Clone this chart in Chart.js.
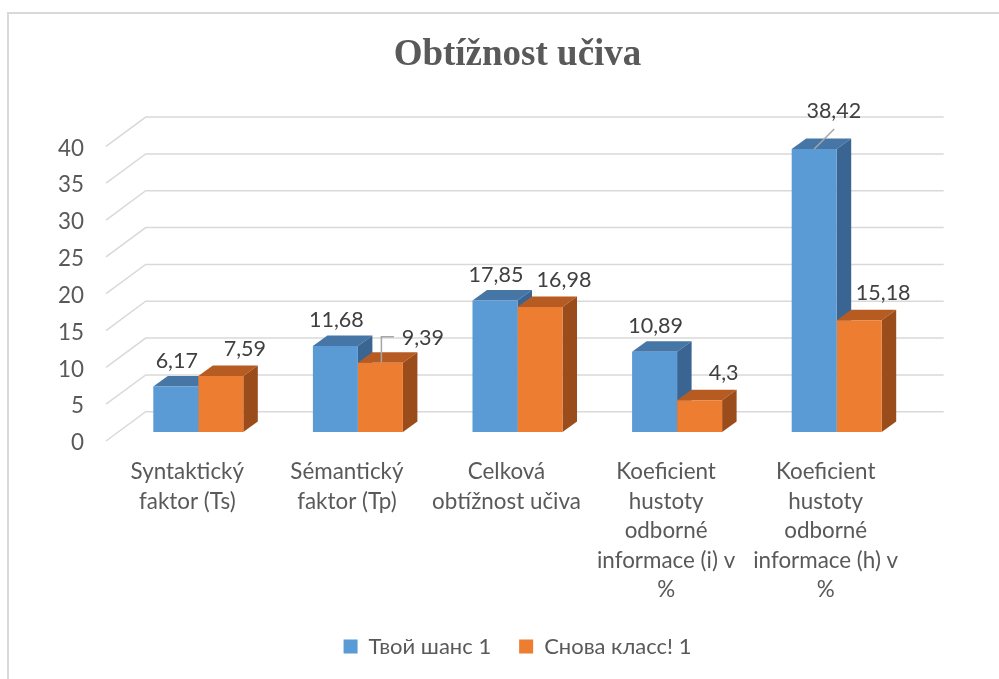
<!DOCTYPE html>
<html lang="cs">
  <head>
    <meta charset="UTF-8" />
    <title>Obtížnost učiva</title>
    <style>
      html,
      body {
        margin: 0;
        padding: 0;
        background: #fff;
      }
    </style>
  </head>
  <body>
    <canvas id="myChart" width="999" height="679"></canvas>
    <script src="https://cdn.jsdelivr.net/npm/chart.js@4"></script>
    <script>
      // data
      var categories = [
        ["Syntaktický", "faktor (Ts)"],
        ["Sémantický", "faktor (Tp)"],
        ["Celková", "obtížnost učiva"],
        ["Koeficient", "hustoty", "odborné", "informace (i) v", "%"],
        ["Koeficient", "hustoty", "odborné", "informace (h) v", "%"],
      ];
      var seriesNames = ["Твой шанс 1", "Снова класс! 1"];
      var tvojSans = [6.17, 11.68, 17.85, 10.89, 38.42];
      var snovaKlass = [7.59, 9.39, 16.98, 4.3, 15.18];
      var yMin = 0;
      var yMax = 40;
      var yStep = 5;

      var FONT = "Lato, 'Noto Sans', sans-serif";
      var DEPTH = { x: 14.5, y: -10.5 }; // hloubka sloupce
      var FRONT = { x: -12.5, y: 9 }; // predni hrana podlahy
      var BACK = { x: 27.2, y: -20.3 }; // zadni stena
      var faces = [
        { front: "#5B9BD5", top: "#4676A6", side: "#3A6592" },
        { front: "#ED7D31", top: "#B65C22", side: "#9A4C1B" },
      ];
      var labelShift = [
        { x: 1, y: -25.5 },
        { x: 24, y: -27 },
      ];
      // popisky s odkazovou carou
      var labelLeaders = {
        "1-1": { x: 42.5, y: -25, line: [[1, 0], [1, -26], [13.5, -26]] },
        "0-4": { x: 19.6, y: -38, line: [[0, 0], [20, -20]] },
      };

      function fmt(v) {
        return String(v).replace(".", ",");
      }

      function poly(ctx, pts, color) {
        ctx.beginPath();
        ctx.moveTo(pts[0][0], pts[0][1]);
        for (var i = 1; i < pts.length; i++) ctx.lineTo(pts[i][0], pts[i][1]);
        ctx.closePath();
        ctx.fillStyle = color;
        ctx.fill();
      }

      var box3d = {
        id: "box3d",
        beforeDraw(chart) {
          var ctx = chart.ctx;
          ctx.save();
          ctx.strokeStyle = "#d9d9d9";
          ctx.lineWidth = 2;
          ctx.strokeRect(8, 13, chart.width + 20, chart.height + 20);
          ctx.restore();
        },
        beforeDatasetsDraw(chart) {
          var ctx = chart.ctx;
          var area = chart.chartArea;
          var y = chart.scales.y;
          ctx.save();
          // mrizka: podlaha -> zadni stena
          ctx.strokeStyle = "#d9d9d9";
          ctx.lineWidth = 1.5;
          y.ticks.forEach(function (t) {
            var py = y.getPixelForValue(t.value);
            ctx.beginPath();
            ctx.moveTo(area.left + FRONT.x, py + FRONT.y);
            ctx.lineTo(area.left + BACK.x, py + BACK.y);
            ctx.lineTo(area.right + BACK.x, py + BACK.y);
            ctx.stroke();
          });
          // horni a bocni steny sloupcu
          var metas = [chart.getDatasetMeta(0), chart.getDatasetMeta(1)];
          for (var i = 0; i < categories.length; i++) {
            metas.forEach(function (meta, d) {
              var bar = meta.data[i];
              var L = bar.x - bar.width / 2;
              var R = bar.x + bar.width / 2;
              var T = bar.y;
              var B = bar.base;
              poly(ctx, [[L, T], [R, T], [R + DEPTH.x, T + DEPTH.y], [L + DEPTH.x, T + DEPTH.y]], faces[d].top);
              poly(ctx, [[R, T], [R + DEPTH.x, T + DEPTH.y], [R + DEPTH.x, B + DEPTH.y], [R, B]], faces[d].side);
            });
          }
          ctx.restore();
        },
        afterDatasetsDraw(chart) {
          var ctx = chart.ctx;
          ctx.save();
          ctx.font = "21.5px " + FONT;
          ctx.textAlign = "center";
          ctx.textBaseline = "middle";
          chart.data.datasets.forEach(function (ds, d) {
            chart.getDatasetMeta(d).data.forEach(function (bar, i) {
              var s = labelShift[d];
              var lead = labelLeaders[d + "-" + i];
              if (lead) {
                s = lead;
                ctx.strokeStyle = "#a6a6a6";
                ctx.lineWidth = 1.5;
                ctx.beginPath();
                lead.line.forEach(function (p, k) {
                  if (k === 0) ctx.moveTo(bar.x + p[0], bar.y + p[1]);
                  else ctx.lineTo(bar.x + p[0], bar.y + p[1]);
                });
                ctx.stroke();
              }
              ctx.fillStyle = "#404040";
              ctx.fillText(fmt(ds.data[i]), bar.x + s.x, bar.y + s.y);
            });
          });
          ctx.restore();
        },
      };

      var ctx = document.getElementById("myChart");
      var myChart = new Chart(ctx, {
        type: "bar",
        data: {
          labels: categories,
          datasets: [
            {
              label: seriesNames[0],
              data: tvojSans,
              backgroundColor: faces[0].front,
            },
            {
              label: seriesNames[1],
              data: snovaKlass,
              backgroundColor: faces[1].front,
            },
          ],
        },
        options: {
          responsive: false,
          animation: false,
          devicePixelRatio: 1,
          categoryPercentage: 0.564,
          barPercentage: 1,
          layout: { padding: { top: 13, right: 82.5, bottom: 11.5, left: 0 } },
          scales: {
            x: {
              grid: { display: false, drawTicks: false },
              border: { display: false },
              ticks: {
                color: "#595959",
                font: { family: FONT, size: 22.4, lineHeight: "29.5px" },
                padding: 25.5,
                labelOffset: -11,
                maxRotation: 0,
                minRotation: 0,
                autoSkip: false,
              },
              afterFit: function (s) {
                s.height = 175.5;
              },
            },
            y: {
              min: yMin,
              max: yMax,
              grid: { display: false, drawTicks: false },
              border: { display: false },
              ticks: {
                stepSize: yStep,
                color: "#595959",
                font: { family: FONT, size: 22.4 },
                padding: 34.5,
                labelOffset: 11,
              },
              afterFit: function (s) {
                s.width = 118.5;
              },
            },
          },
          plugins: {
            title: {
              display: true,
              text: "Obtížnost učiva",
              color: "#595959",
              fullSize: false,
              font: { family: "'Liberation Serif', 'Times New Roman', serif", size: 37, weight: "bold", lineHeight: 1.2 },
              padding: { top: 20, bottom: 60 },
            },
            legend: {
              position: "bottom",
              fullSize: false,
              labels: {
                color: "#595959",
                font: { family: FONT, size: 22 },
                boxWidth: 14,
                boxHeight: 14,
                padding: 28,
              },
            },
            tooltip: { enabled: false },
          },
        },
        plugins: [box3d],
      });
    </script>
  </body>
</html>
